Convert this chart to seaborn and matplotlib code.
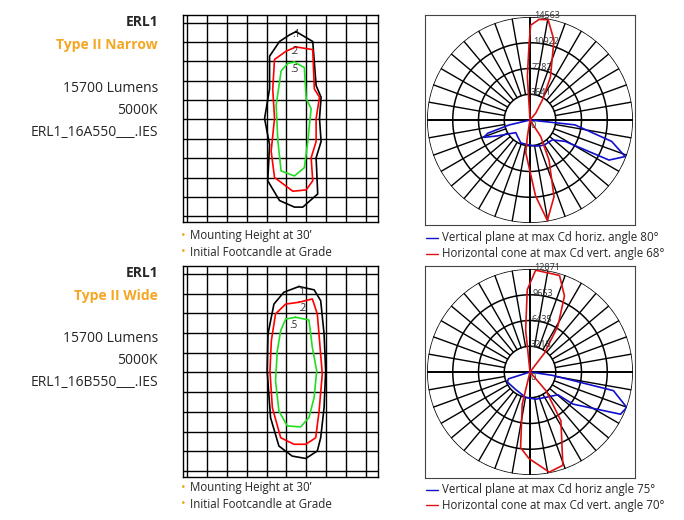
import numpy as np
import pandas as pd
import seaborn as sns
import matplotlib.pyplot as plt

sns.set_style('white')
plt.rcParams['font.family'] = ['Open Sans', 'DejaVu Sans']

# --- данные: изолюксы (единицы сетки) ---
narrow_01_x = [5.48, 6.32, 6.49, 6.74, 6.66, 6.74, 6.49, 6.57, 5.82, 5.4, 4.65, 4.06, 4.15, 3.9, 4.15, 4.15, 4.65, 5.15]
narrow_01_y = [0.46, 0.97, 3.25, 3.85, 4.95, 6.14, 6.98, 8.85, 9.53, 9.53, 9.19, 8.17, 6.31, 4.95, 3.42, 1.73, 0.97, 0.63]
narrow_02_x = [5.48, 6.32, 6.4, 6.66, 6.49, 6.49, 6.24, 6.32, 5.99, 5.32, 4.4, 4.23, 4.4, 4.31, 4.4, 4.98]
narrow_02_y = [1.25, 1.39, 3.42, 3.85, 4.95, 6.14, 6.98, 8.17, 8.64, 8.71, 8.0, 6.64, 4.95, 3.42, 1.9, 1.47]
narrow_05_x = [5.4, 5.9, 5.99, 6.24, 6.07, 5.9, 5.4, 4.73, 4.57, 4.48, 4.65, 4.73, 5.07]
narrow_05_y = [2.03, 2.32, 3.93, 4.44, 6.14, 7.49, 7.92, 7.66, 6.14, 4.27, 3.08, 2.49, 2.1]

wide_01_x = [5.63, 6.39, 6.72, 6.89, 6.97, 6.89, 6.72, 6.55, 5.97, 5.29, 4.62, 4.2, 4.03, 4.07, 4.37, 4.87]
wide_01_y = [0.64, 0.81, 1.36, 3.05, 4.92, 6.78, 8.31, 8.98, 9.36, 9.24, 8.73, 7.29, 4.92, 3.05, 1.53, 0.93]
wide_02_x = [5.63, 6.3, 6.55, 6.69, 6.8, 6.64, 6.47, 5.97, 5.38, 4.71, 4.29, 4.17, 4.24, 4.45, 4.96]
wide_02_y = [1.44, 1.27, 2.03, 3.73, 5.08, 6.95, 8.31, 8.64, 8.64, 8.31, 6.78, 4.92, 3.39, 2.03, 1.53]
wide_05_x = [5.46, 6.13, 6.3, 6.52, 6.39, 6.13, 5.71, 5.04, 4.62, 4.45, 4.54, 4.71, 4.96]
wide_05_y = [2.2, 2.34, 3.73, 4.92, 6.27, 7.29, 7.76, 7.71, 6.95, 5.42, 3.9, 2.88, 2.29]

iso_labels = ['.1', '.2', '.5']
narrow_label_pos = [(5.52, 0.63), (5.4, 1.51), (5.4, 2.44)]
wide_label_pos = [(5.75, 0.93), (5.8, 1.75), (5.34, 2.63)]

# --- данные: кривые силы света (угол по часовой от верха, доля от максимума) ---
narrow_red_deg = [0, -3.5, -0.7, 0.4, 5.1, 10.2, 16.7, 25.5, 31.7, 40, 0, 189, 187.4, 175.8, 170.2, 162.6, 154.6, 147, 0]
narrow_red_r = [0, 0.42, 0.74, 0.92, 0.98, 0.99, 0.81, 0.46, 0.23, 0.085, 0, 0.16, 0.32, 0.74, 0.99, 0.78, 0.43, 0.19, 0]
narrow_blue_deg = [0, 96.2, 104.7, 111, 116.9, 121.3, 131.8, 150.8, 167.8, 186, 201.8, 228.5, 243.9, 249.4, 252.6, 256.6, 0]
narrow_blue_r = [0, 0.44, 0.82, 0.99, 0.86, 0.40, 0.29, 0.28, 0.26, 0.24, 0.24, 0.185, 0.35, 0.48, 0.43, 0.21, 0]
wide_red_deg = [0, -5.9, -1.9, 3.2, 17, 24.4, 31.3, 37.4, 0, 193.6, 187.1, 180.7, 169.1, 160.6, 147.6, 139.5, 0]
wide_red_r = [0, 0.41, 0.80, 0.99, 0.98, 0.81, 0.52, 0.23, 0, 0.32, 0.74, 0.84, 0.99, 0.96, 0.56, 0.24, 0]
wide_blue_deg = [0, 98.5, 102.6, 110.1, 115, 126.8, 129.2, 147.9, 168, 189.8, 220.7, 246.2, 252.4, 0]
wide_blue_r = [0, 0.22, 0.83, 1.0, 0.97, 0.52, 0.35, 0.29, 0.27, 0.25, 0.22, 0.24, 0.22, 0]

narrow_rings = ['3641', '7282', '10922', '14563']
wide_rings = ['3218', '6435', '9653', '12871']

ORANGE = '#f5a623'
fig = plt.figure(figsize=(6.84, 5.2), dpi=100)


def px_axes(x, y, w, h, **kw):
    return fig.add_axes([x / 684, 1 - (y + h) / 520, w / 684, h / 520], **kw)


def iso_plot(rect, contours, label_pos):
    ax = px_axes(*rect)
    for i in range(10):
        ax.axvline(i, color='black', lw=1)
    for j in range(11):
        ax.axhline(j, color='black', lw=1)
    for (xs, ys), col in zip(contours, ['black', 'red', '#22dd22']):
        df = pd.DataFrame({'x': xs + xs[:1], 'y': ys + ys[:1]})
        sns.lineplot(data=df, x='x', y='y', sort=False, estimator=None, color=col, lw=1.2, ax=ax)
    for lab, (lx, ly) in zip(iso_labels, label_pos):
        ax.text(lx, ly, lab, fontsize=7, ha='center', va='center')
    ax.set_xlim(-0.2, 9.6)
    ax.set_ylim(10.3, -0.4)
    ax.set_xlabel('')
    ax.set_ylabel('')
    ax.set_xticks([])
    ax.set_yticks([])
    for s in ax.spines.values():
        s.set_color('black')
        s.set_linewidth(1)


def polar_plot(rect, red, blue, rings):
    frame = px_axes(*rect)
    frame.set_xticks([])
    frame.set_yticks([])
    for s in frame.spines.values():
        s.set_color('#444444')
    x, y, w, h = rect
    ax = px_axes(x + 2, y + 2, w - 4, h - 4, projection='polar')
    ax.set_theta_zero_location('N')
    ax.set_theta_direction(-1)
    ax.grid(False)
    ax.spines['polar'].set_visible(False)
    ax.set_xticks([])
    ax.set_yticks([])
    t = np.linspace(0, 2 * np.pi, 361)
    for k in range(1, 5):
        ax.plot(t, np.full_like(t, k / 4), color='black', lw=1.1)
    for a in range(0, 360, 10):
        r0 = 0 if a % 90 == 0 else 0.25
        ax.plot([np.radians(a)] * 2, [r0, 1], color='black', lw=1.0 if a % 90 else 1.4)
    for (deg, rr), col in [(blue, '#1010cc'), (red, '#dd1111')]:
        df = pd.DataFrame({'t': np.radians(deg), 'r': rr})
        sns.lineplot(data=df, x='t', y='r', sort=False, estimator=None, color=col, lw=1.2, ax=ax)
    for k, lab in enumerate(rings, start=1):
        ax.text(0.04, k / 4 - 0.03, lab, fontsize=6.5, color='#333333', ha='left', va='bottom')
    ax.text(np.radians(150), 0.06, '0', fontsize=6.5, color='#333333', ha='center', va='center')
    ax.set_ylim(0, 1.0)
    ax.set_xlabel('')
    ax.set_ylabel('')


iso_plot((183, 15, 195, 207), [(narrow_01_x, narrow_01_y), (narrow_02_x, narrow_02_y), (narrow_05_x, narrow_05_y)], narrow_label_pos)
iso_plot((183, 266, 195, 211), [(wide_01_x, wide_01_y), (wide_02_x, wide_02_y), (wide_05_x, wide_05_y)], wide_label_pos)
polar_plot((425, 15, 210, 210), (narrow_red_deg, narrow_red_r), (narrow_blue_deg, narrow_blue_r), narrow_rings)
polar_plot((425, 266, 210, 212), (wide_red_deg, wide_red_r), (wide_blue_deg, wide_blue_r), wide_rings)


def ftext(x, y, s, **kw):
    fig.text(x / 684, 1 - y / 520, s, va='center', **kw)


for top, code, kind in [(0, 'ERL1_16A550___.IES', 'Type II Narrow'), (251, 'ERL1_16B550___.IES', 'Type II Wide')]:
    ftext(158, 22 + top, 'ERL1', ha='right', fontsize=10, fontweight='bold')
    ftext(158, 45 + top, kind, ha='right', fontsize=10, fontweight='bold', color=ORANGE)
    ftext(158, 88 + top, '15700 Lumens', ha='right', fontsize=10)
    ftext(158, 110 + top, '5000K', ha='right', fontsize=10)
    ftext(158, 132 + top, code, ha='right', fontsize=10)

for y0 in [236, 488]:
    for dy, s in [(0, 'Mounting Height at 30’'), (16, 'Initial Footcandle at Grade')]:
        ftext(181, y0 + dy, '•', color=ORANGE, fontsize=9)
        ftext(190, y0 + dy, s, fontsize=8.3)

legend_rows = [(238, '#1010cc', 'Vertical plane at max Cd horiz. angle 80°'),
               (254, '#dd1111', 'Horizontal cone at max Cd vert. angle 68°'),
               (490, '#1010cc', 'Vertical plane at max Cd horiz angle 75°'),
               (505, '#dd1111', 'Horizontal cone at max Cd vert. angle 70°')]
for y0, col, s in legend_rows:
    fig.add_artist(plt.Line2D([426 / 684, 438 / 684], [1 - y0 / 520] * 2, color=col, lw=1))
    ftext(442, y0, s, fontsize=8.3)

fig.savefig('out.png', dpi=100)
